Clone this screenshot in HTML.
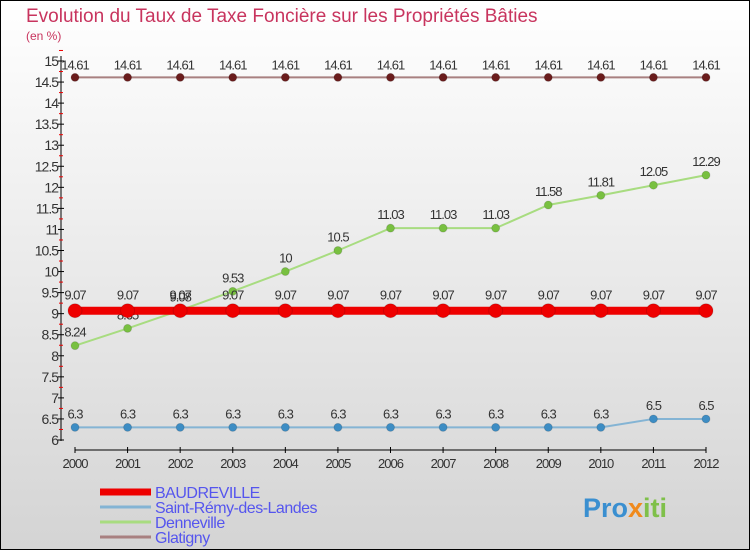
<!DOCTYPE html>
<html><head><meta charset="utf-8"><style>
body{margin:0}
svg text{font-family:"Liberation Sans",sans-serif}
</style></head><body>
<svg width="750" height="550" viewBox="0 0 750 550" xmlns="http://www.w3.org/2000/svg">
<defs><linearGradient id="bg" x1="0" y1="0" x2="0" y2="1"><stop offset="0" stop-color="#ffffff"/><stop offset="1" stop-color="#d4d4d4"/></linearGradient></defs>
<rect x="0.5" y="0.5" width="749" height="549" fill="url(#bg)" stroke="#000"/>
<text x="26" y="22" font-size="19" fill="#c8345e">Evolution du Taux de Taxe Foncière sur les Propriétés Bâties</text>
<text x="26" y="40" font-size="12" fill="#c8345e">(en %)</text>
<g id="axes"></g>
<g id="series"></g>
<g id="legend"></g>
<text x="583" y="517" font-size="27" font-weight="bold" fill="#3a8fd0">Pro<tspan fill="#f08a1c">x</tspan><tspan fill="#7fc04a">iti</tspan></text>
</svg>
<script>
const years=[2000,2001,2002,2003,2004,2005,2006,2007,2008,2009,2010,2011,2012];
const baudreville=[9.07,9.07,9.07,9.07,9.07,9.07,9.07,9.07,9.07,9.07,9.07,9.07,9.07];
const saintRemy=[6.3,6.3,6.3,6.3,6.3,6.3,6.3,6.3,6.3,6.3,6.3,6.5,6.5];
const denneville=[8.24,8.65,9.08,9.53,10,10.5,11.03,11.03,11.03,11.58,11.81,12.05,12.29];
const glatigny=[14.61,14.61,14.61,14.61,14.61,14.61,14.61,14.61,14.61,14.61,14.61,14.61,14.61];
const yTicks=[6,6.5,7,7.5,8,8.5,9,9.5,10,10.5,11,11.5,12,12.5,13,13.5,14,14.5,15];
const legendNames=["BAUDREVILLE","Saint-Rémy-des-Landes","Denneville","Glatigny"];
const NS="http://www.w3.org/2000/svg";
const X=i=>75+i*(706-75)/(years.length-1);
const Y=v=>440-(v-6)*(440-61)/9;
function mk(t,a,p){const e=document.createElementNS(NS,t);for(const k in a)e.setAttribute(k,a[k]);(p||document.getElementById('series')).appendChild(e);return e;}
const ax=document.getElementById('axes');
let e=mk('line',{x1:61,y1:56,x2:61,y2:441,stroke:'#000','stroke-width':1},ax);


e=mk('line',{x1:75,y1:450,x2:706,y2:450,stroke:'#000','stroke-width':1},ax);


yTicks.forEach(v=>{
  mk('line',{x1:58,y1:Y(v),x2:64,y2:Y(v),stroke:'#000'},ax);
  mk('line',{x1:59,y1:Y(v+0.25),x2:63,y2:Y(v+0.25),stroke:'#e00'},ax);
  const t=mk('text',{x:58,y:Y(v)+5,'font-size':14,'text-anchor':'end',fill:'#333','letter-spacing':'-1'},ax);
  t.textContent=String(v);
  
  
});
years.forEach((y,i)=>{
  mk('line',{x1:X(i),y1:447,x2:X(i),y2:453,stroke:'#000'},ax);
  const t=mk('text',{x:X(i),y:468,'font-size':13,'text-anchor':'middle',fill:'#333','letter-spacing':'-1'},ax);
  t.textContent=String(y);
  
  
});
function series(vals,line,dot,lw,r,name,labOff){
  const g=mk('g',{});
  
  
  mk('polyline',{points:vals.map((v,i)=>X(i)+','+Y(v)).join(' '),fill:'none',stroke:line,'stroke-width':lw},g);
  vals.forEach((v,i)=>{
    const c=mk('circle',{cx:X(i),cy:Y(v),r:r,fill:dot,stroke:'#0002'},g);
    
    
    const t=mk('text',{x:X(i),y:Y(v)-labOff,'font-size':13,'text-anchor':'middle',fill:'#333','letter-spacing':'-1'},g);
    t.textContent=String(v);
    
    
  });
}
series(glatigny,'#a88080','#6a1c1c',2,4,'glatigny-series',8);
series(saintRemy,'#84b4d4','#3d8dc4',2,4,'saint-remy-series',9);
series(denneville,'#a8dc80','#78c040',2,4,'denneville-series',9);
series(baudreville,'#ee0000','#ee0000',8,7,'baudreville-series',11);
const lg=document.getElementById('legend');
const lc=['#ee0000','#84b4d4','#a8dc80','#a88080'],lw=[7,3,3,3];
legendNames.forEach((n,i)=>{
  const y=492+i*15;
  mk('line',{x1:100,y1:y,x2:151,y2:y,stroke:lc[i],'stroke-width':lw[i]},lg);
  const t=mk('text',{x:155,y:y+6,'font-size':16,fill:'#5555ee','letter-spacing':'-0.5'},lg);
  t.textContent=n;
  
  
});
</script>
</body></html>
